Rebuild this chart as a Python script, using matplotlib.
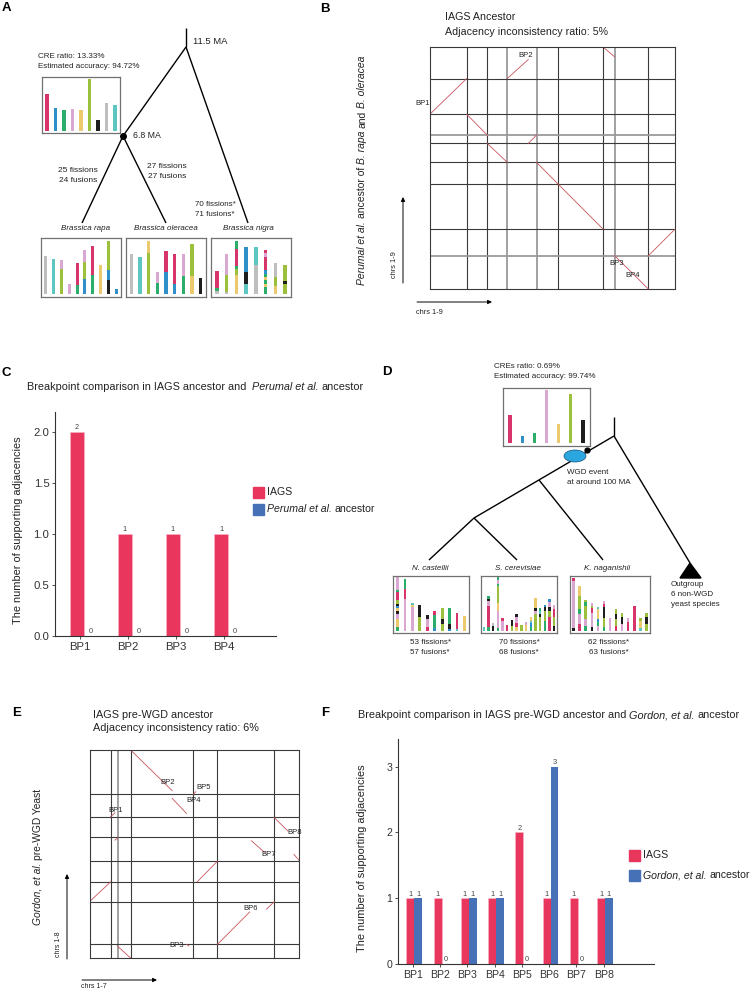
import matplotlib
matplotlib.use('Agg')
import matplotlib.pyplot as plt
from matplotlib.patches import Ellipse, Polygon, Rectangle
import numpy as np

plt.rcParams['font.family'] = ['Liberation Sans', 'DejaVu Sans']

# ---------------- DATA ----------------
# Panel C
bp_C = ['BP1', 'BP2', 'BP3', 'BP4']
iags_C = [2, 1, 1, 1]
perumal_C = [0, 0, 0, 0]
# Panel F
bp_F = ['BP1', 'BP2', 'BP3', 'BP4', 'BP5', 'BP6', 'BP7', 'BP8']
iags_F = [1, 1, 1, 1, 2, 1, 1, 1]
gordon_F = [1, 0, 1, 1, 0, 3, 0, 1]

# Panel B dot plot (relative chromosome coordinates)
B_xbounds = [0, 110, 172, 232, 320, 386, 520, 555, 656, 736]
B_ybounds = [0, 100, 180, 315, 381, 438, 463, 526, 633, 728]
B_gray_x = [232, 320, 555]
B_gray_y = [100, 463]
B_segments = [(0, 526, 110, 633), (232, 633, 295, 690), (520, 728, 555, 698),
              (110, 526, 172, 463), (295, 438, 320, 463), (172, 438, 232, 381),
              (320, 381, 520, 180), (656, 100, 736, 180), (555, 100, 656, 0)]
B_labels = [('BP1', -22, 558), ('BP2', 288, 703), ('BP3', 562, 78), ('BP4', 610, 40)]

# Panel E dot plot
E_xbounds = [0, 62, 85, 122, 310, 383, 553, 628]
E_ybounds = [0, 41, 168, 228, 290, 361, 421, 490, 623]
E_gray_x = [85]
E_gray_y = []
E_segments = [(122, 623, 247, 501), (247, 478, 290, 433), (310, 490, 318, 498),
              (62, 423, 75, 435), (75, 353, 85, 361), (553, 421, 595, 380),
              (613, 310, 628, 293), (485, 351, 525, 316), (322, 228, 383, 290),
              (0, 170, 62, 228), (383, 41, 480, 138), (530, 146, 553, 168),
              (290, 41, 297, 36), (82, 36, 122, 0)]
E_labels = [('BP1', 77, 441), ('BP2', 233, 525), ('BP5', 340, 511), ('BP4', 310, 473),
            ('BP8', 615, 376), ('BP7', 538, 311), ('BP6', 483, 148), ('BP3', 260, 38)]

# Karyotypes: each chromosome = list of (colour key, length) from bottom to top
anc_A = [[('r', 109)], [('b', 67)], [('g', 62)], [('p', 64)], [('y', 62)],
         [('o', 155)], [('k', 32)], [('a', 84)], [('c', 77)]]
rapa = [[('a', 112)], [('c', 105)], [('o', 75), ('p', 25)], [('p', 28)],
        [('g', 25), ('r', 65)], [('b', 45), ('o', 50), ('p', 37)],
        [('g', 55), ('r', 87)], [('y', 85)], [('k', 42), ('b', 28), ('o', 87)],
        [('b', 15)]]
oleracea = [[('a', 118)], [('c', 110)], [('o', 122), ('y', 35)], [('g', 33), ('p', 32)],
            [('b', 65), ('r', 63)], [('b', 30), ('r', 90)], [('g', 52), ('p', 65)],
            [('y', 53), ('o', 97)], [('k', 47)]]
nigra = [[('a', 8), ('g', 10), ('r', 50)], [('a', 5), ('o', 52), ('p', 61)],
         [('y', 55), ('o', 20), ('g', 8), ('r', 52), ('g', 22)],
         [('c', 30), ('k', 35), ('b', 75)], [('a', 85), ('c', 55)],
         [('g', 20), ('y', 10), ('g', 10), ('y', 10), ('g', 10), ('b', 12), ('r', 38), ('p', 12), ('r', 10)],
         [('y', 22), ('o', 28), ('a', 42)], [('o', 30), ('k', 8), ('o', 47)]]
anc_D = [[('r', 85)], [('b', 20)], [('g', 31)], [('p', 158)], [('y', 58)],
         [('o', 146)], [('k', 70)]]
castellii = [[('g', 10), ('y', 25), ('p', 15), ('k', 10), ('y', 8), ('b', 6), ('k', 7), ('o', 12), ('r', 22), ('g', 6), ('p', 40)],
             [('p', 95), ('r', 30), ('g', 30)], [('p', 70), ('y', 7), ('c', 6)],
             [('o', 40), ('k', 38)], [('r', 12), ('p', 24), ('k', 10)],
             [('b', 8), ('g', 38), ('r', 14)], [('o', 20), ('k', 15), ('o', 31)],
             [('b', 6), ('k', 14), ('g', 48)], [('c', 5), ('r', 48)], [('y', 43)]]
cerevisiae = [[('c', 11)], [('g', 10), ('r', 65), ('p', 13), ('k', 8), ('g', 7)],
              [('k', 13), ('a', 10)],
              [('g', 8), ('p', 50), ('y', 25), ('o', 50), ('g', 8), ('p', 12), ('g', 8)],
              [('p', 30), ('r', 8)], [('r', 18)], [('o', 15), ('k', 18)],
              [('y', 12), ('r', 10), ('p', 20), ('k', 8)], [('o', 18)], [('y', 18), ('p', 8)],
              [('g', 12), ('b', 10), ('c', 8), ('y', 10)], [('o', 50), ('p', 10), ('k', 8), ('y', 30)],
              [('o', 40), ('k', 10), ('c', 8), ('g', 10)], [('g', 30), ('o', 30), ('k', 10), ('b', 8)],
              [('r', 40), ('o', 20), ('k', 10), ('p', 15), ('b', 10)], [('k', 15), ('o', 25), ('r', 25), ('p', 10)]]
naganishii = [[('k', 8), ('p', 140), ('r', 10)], [('r', 20), ('p', 30), ('g', 15), ('o', 40), ('y', 30)],
              [('g', 15), ('p', 20), ('o', 40), ('g', 10), ('o', 8)],
              [('k', 12), ('p', 40), ('r', 15), ('o', 8), ('p', 8)],
              [('p', 15), ('g', 12), ('b', 8), ('y', 30), ('c', 6)],
              [('g', 12), ('o', 25), ('k', 35), ('r', 8), ('p', 8)], [('p', 38)],
              [('r', 15), ('o', 20), ('k', 15), ('o', 13)], [('p', 20), ('k', 20), ('o', 13)],
              [('r', 25), ('p', 13)], [('r', 73)], [('c', 8), ('y', 20), ('o', 10)],
              [('o', 20), ('k', 20), ('o', 13)]]

# Tree layouts (schematic, in panel layout units)
treeA_nodes = {'top': (186, 28), 'root': (186, 47), 'anc': (123, 136),
               'rapa': (82, 223), 'oler': (166, 223), 'nigra': (248, 223)}
treeA_edges = [('top', 'root'), ('root', 'anc'), ('root', 'nigra'), ('anc', 'rapa'), ('anc', 'oler')]
treeD_nodes = {'top': (614, 417), 'root': (614, 436), 'n1': (539, 480), 'n2': (474, 518),
               'cas': (429, 560), 'cer': (517, 560), 'nag': (603, 560), 'out': (690, 563)}
treeD_edges = [('top', 'root'), ('root', 'n2'), ('n1', 'nag'), ('n2', 'cas'), ('n2', 'cer'), ('root', 'out')]

# ---------------- STYLE ----------------
PAL = {'r': '#D8346C', 'b': '#2E8FC9', 'g': '#2AAE6A', 'p': '#D9A7D1', 'y': '#EBC96C',
       'o': '#9DC03C', 'k': '#1E1E1E', 'a': '#BEBEBE', 'c': '#5EC6C0'}
RED = '#E8365D'
BLUE = '#4671B7'
SEG = '#C9535E'
TXT = '#222222'

W, H = 755, 990
fig = plt.figure(figsize=(W / 100, H / 100), dpi=100)
renderer = fig.canvas.get_renderer()


def rect(x0, y0, x1, y1):
    return [x0 / W, 1 - y1 / H, (x1 - x0) / W, (y1 - y0) / H]


ov = fig.add_axes([0, 0, 1, 1], zorder=0)
ov.set_xlim(0, W)
ov.set_ylim(H, 0)
ov.axis('off')


def T(x, y, s, size=6.5, ha='left', va='center', **kw):
    return ov.text(x, y, s, fontsize=size, ha=ha, va=va, color=kw.pop('color', TXT), **kw)


def _w(s, size, style):
    t = ov.text(0, 0, s, fontsize=size, fontstyle=style)
    w = t.get_window_extent(renderer).width
    t.remove()
    return w


def rich(x, y, parts, size, ha='left', vertical=False):
    """parts: list of (text, italic); joined with single spaces."""
    sp = _w('a a', size, 'normal') - _w('aa', size, 'normal')
    widths = [_w(s, size, 'italic' if it else 'normal') for s, it in parts]
    total = sum(widths) + sp * (len(parts) - 1)
    start = -total / 2 if ha == 'center' else 0
    pos = start
    for (s, it), wd in zip(parts, widths):
        st = 'italic' if it else 'normal'
        if vertical:
            ov.text(x, y - pos, s, fontsize=size, fontstyle=st, rotation=90, rotation_mode='anchor',
                    ha='left', va='center', color=TXT)
        else:
            ov.text(x + pos, y, s, fontsize=size, fontstyle=st, ha='left', va='center', color=TXT)
        pos += wd + sp


def karyo(box, chroms, width, base_off=3):
    x0, y0, x1, y1 = box
    ax = fig.add_axes(rect(x0, y0, x1, y1), zorder=2)
    n = len(chroms)
    ax.set_ylim(-base_off * 3, (y1 - y0 - base_off) * 3)
    ax.set_xlim(-0.6, n - 0.4)
    for i, segs in enumerate(chroms):
        bottom = 0
        for c, L in segs:
            ax.bar(i, L, bottom=bottom, width=width, color=PAL[c], linewidth=0)
            bottom += L
    ax.set_xticks([])
    ax.set_yticks([])
    for s in ax.spines.values():
        s.set_color('#707070')
        s.set_linewidth(0.9)
    return ax


def dotplot(box, xb, yb, gx, gy, segs, labels):
    ax = fig.add_axes(rect(*box), zorder=2)
    ax.patch.set_visible(False)
    ax.set_xlim(xb[0], xb[-1])
    ax.set_ylim(yb[0], yb[-1])
    for v in xb[1:-1]:
        if v in gx:
            ax.axvline(v, color='#9a9a9a', lw=1.3)
        else:
            ax.axvline(v, color='#3a3a3a', lw=0.8)
    for v in yb[1:-1]:
        if v in gy:
            ax.axhline(v, color='#9a9a9a', lw=1.3)
        else:
            ax.axhline(v, color='#3a3a3a', lw=0.8)
    for (xa, ya, xc, yc) in segs:
        ax.plot([xa, xc], [ya, yc], color=SEG, lw=0.6)
    for t, x, y in labels:
        ax.text(x, y, t, fontsize=5.5, ha='center', va='center', color=TXT, clip_on=False)
    ax.set_xticks([])
    ax.set_yticks([])
    for s in ax.spines.values():
        s.set_color('#3a3a3a')
        s.set_linewidth(0.8)
    return ax


def arrow(x0, y0, x1, y1):
    ov.annotate('', xy=(x1, y1), xytext=(x0, y0),
                arrowprops=dict(arrowstyle='-|>', lw=0.7, color='k', mutation_scale=6,
                                shrinkA=0, shrinkB=0))


def legend_box(x, y1, y2, label2, size):
    ov.add_patch(Rectangle((x, y1 - 5.5), 11, 11, color=RED))
    ov.add_patch(Rectangle((x, y2 - 5.5), 11, 11, color=BLUE))
    T(x + 14, y1, 'IAGS', size)
    rich(x + 14, y2, label2, size)


def barpanel(box, cats, v1, v2, xlim, ylim, yticks, yticklabels, tsize, tick_shift):
    ax = fig.add_axes(rect(*box), zorder=2)
    ax.patch.set_visible(False)
    w = 0.29
    x = np.arange(len(cats))
    ax.bar(x - w, v1, width=w, align='edge', color=RED, edgecolor='#F7B5C5', lw=0.4)
    ax.bar(x, v2, width=w, align='edge', color=BLUE)
    for i in range(len(cats)):
        ax.text(x[i] - w / 2, v1[i] + 0.01, str(v1[i]), ha='center', va='bottom', fontsize=5.3, color='#444')
        ax.text(x[i] + w / 2, v2[i] + 0.01, str(v2[i]), ha='center', va='bottom', fontsize=5.3, color='#444')
    ax.set_xlim(*xlim)
    ax.set_ylim(*ylim)
    ax.set_yticks(yticks)
    ax.set_yticklabels(yticklabels)
    ax.set_xticks(x + tick_shift)
    ax.set_xticklabels(cats)
    ax.tick_params(labelsize=tsize, colors='#333', length=2.5, width=0.6, pad=1.5)
    for s in ['top', 'right']:
        ax.spines[s].set_visible(False)
    for s in ['left', 'bottom']:
        ax.spines[s].set_color('#333')
        ax.spines[s].set_linewidth(0.8)
    return ax


# ---------------- PANEL A ----------------
T(6, 8, 'A', size=9.5, fontweight='bold', ha='center', color='k')
for a, b in treeA_edges:
    (xa, ya), (xb, yb) = treeA_nodes[a], treeA_nodes[b]
    ov.plot([xa, xb], [ya, yb], color='k', lw=1.0, solid_capstyle='butt')
ov.plot(*treeA_nodes['anc'], 'o', color='k', ms=4)
T(193, 42, '11.5 MA', 6.8)
T(133, 135, '6.8 MA', 6.3)
T(38, 57, 'CRE ratio: 13.33%', 5.8)
T(38, 67, 'Estimated accuracy: 94.72%', 5.8)
T(78, 170, '25 fissions', 6.0, ha='center')
T(78, 180, '24 fusions', 6.0, ha='center')
T(167, 166, '27 fissions', 6.0, ha='center')
T(167, 176, '27 fusions', 6.0, ha='center')
T(215, 204, '70 fissions*', 5.8, ha='center')
T(215, 214, '71 fusions*', 5.8, ha='center')
T(86, 229, 'Brassica rapa', 5.8, ha='center', fontstyle='italic')
T(166, 229, 'Brassica oleracea', 5.8, ha='center', fontstyle='italic')
T(248, 229, 'Brassica nigra', 5.8, ha='center', fontstyle='italic')
karyo((42, 77, 120, 133), anc_A, 0.38, base_off=2.5)
karyo((41, 238, 121, 297), rapa, 0.4, base_off=3.5)
karyo((126, 238, 206, 297), oleracea, 0.38, base_off=3.5)
karyo((211, 238, 291, 297), nigra, 0.36, base_off=3.5)

# ---------------- PANEL B ----------------
T(325, 9, 'B', size=9.5, fontweight='bold', ha='center', color='k')
T(445, 17, 'IAGS Ancestor', 7.7)
T(445, 32, 'Adjacency inconsistency ratio: 5%', 7.7)
dotplot((430, 47, 675, 289), B_xbounds, B_ybounds, B_gray_x, B_gray_y, B_segments, B_labels)
rich(362, 170, [('Perumal et al.', True), ('ancestor of', False), ('B. rapa', True),
                ('and', False), ('B. oleracea', True)], 7.5, ha='center', vertical=True)
arrow(403, 283, 403, 197)
T(394, 265, 'chrs 1-9', 5.3, ha='center', rotation=90)
arrow(417, 302, 492, 302)
T(416, 312, 'chrs 1-9', 5.3)

# ---------------- PANEL C ----------------
T(6, 373, 'C', size=9.5, fontweight='bold', ha='center', color='k')
rich(27, 387, [('Breakpoint comparison in IAGS ancestor and ', False), ('Perumal et al.', True),
               ('ancestor', False)], 7.8)
barpanel((55, 412, 276, 636), bp_C, iags_C, perumal_C, (-0.6, 4.0), (0, 2.2),
         [0, 0.5, 1.0, 1.5, 2.0], ['0.0', '0.5', '1.0', '1.5', '2.0'], 8.2, -0.08)
T(18, 530, 'The number of supporting adjacencies', 7.9, ha='center', rotation=90)
legend_box(253, 492, 509, [('Perumal et al.', True), ('ancestor', False)], 7.6)

# ---------------- PANEL D ----------------
T(387, 372, 'D', size=9.5, fontweight='bold', ha='center', color='k')
T(494, 367, 'CREs ratio: 0.69%', 5.8)
T(494, 377, 'Estimated accuracy: 99.74%', 5.8)
karyo((503, 388, 590, 446), anc_D, 0.3, base_off=3)
for a, b in treeD_edges:
    (xa, ya), (xb, yb) = treeD_nodes[a], treeD_nodes[b]
    ov.plot([xa, xb], [ya, yb], color='k', lw=1.0, solid_capstyle='butt')
ov.add_patch(Ellipse((575, 456), 22, 12, facecolor='#2BA6E1', edgecolor='#1B4F7A', lw=0.5, zorder=3))
ov.plot(587, 450, 'o', color='k', ms=3.5, zorder=4)
tx, ty = treeD_nodes['out']
ov.add_patch(Polygon([(tx, ty), (tx - 10, ty + 15), (tx + 11, ty + 15)], closed=True, color='k'))
T(567, 472, 'WGD event', 5.8)
T(567, 482, 'at around 100 MA', 5.8)
T(430, 569, 'N. castellii', 5.8, ha='center', fontstyle='italic')
T(518, 569, 'S. cerevisiae', 5.8, ha='center', fontstyle='italic')
T(607, 569, 'K. naganishii', 5.8, ha='center', fontstyle='italic')
T(671, 585, 'Outgroup', 5.8)
T(671, 595, '6 non-WGD', 5.8)
T(671, 605, 'yeast species', 5.8)
karyo((393, 576, 469, 633), castellii, 0.38, base_off=2.5)
karyo((481, 576, 557, 633), cerevisiae, 0.5, base_off=2.5)
karyo((570, 576, 650, 633), naganishii, 0.42, base_off=2.5)
for cx, f1, f2 in [(430, '53 fissions*', '57 fusions*'), (519, '70 fissions*', '68 fusions*'),
                   (609, '62 fissions*', '63 fusions*')]:
    T(cx, 642, f1, 5.8, ha='center')
    T(cx, 652, f2, 5.8, ha='center')

# ---------------- PANEL E ----------------
T(17, 713, 'E', size=9.5, fontweight='bold', ha='center', color='k')
T(93, 715, 'IAGS pre-WGD ancestor', 7.8)
T(93, 728, 'Adjacency inconsistency ratio: 6%', 7.8)
dotplot((90, 750, 299, 958), E_xbounds, E_ybounds, E_gray_x, E_gray_y, E_segments, E_labels)
rich(38, 857, [('Gordon, et al.', True), ('pre-WGD Yeast', False)], 7.4, ha='center', vertical=True)
arrow(67, 959, 67, 874)
T(58, 944, 'chrs 1-8', 5.0, ha='center', rotation=90)
arrow(82, 980, 157, 980)
T(81, 987, 'chrs 1-7', 5.0)

# ---------------- PANEL F ----------------
T(325, 713, 'F', size=9.5, fontweight='bold', ha='center', color='k')
rich(358, 715, [('Breakpoint comparison in IAGS pre-WGD ancestor and', False),
                ('Gordon, et al.', True), ('ancestor', False)], 7.8)
barpanel((398, 739, 654, 964), bp_F, iags_F, gordon_F, (-0.6, 8.8), (0, 3.42),
         [0, 1, 2, 3], ['0', '1', '2', '3'], 7.6, -0.05)
T(362, 858, 'The number of supporting adjacencies', 7.9, ha='center', rotation=90)
legend_box(629, 855, 875, [('Gordon, et al.', True), ('ancestor', False)], 7.6)

fig.savefig('out.png', dpi=100)
